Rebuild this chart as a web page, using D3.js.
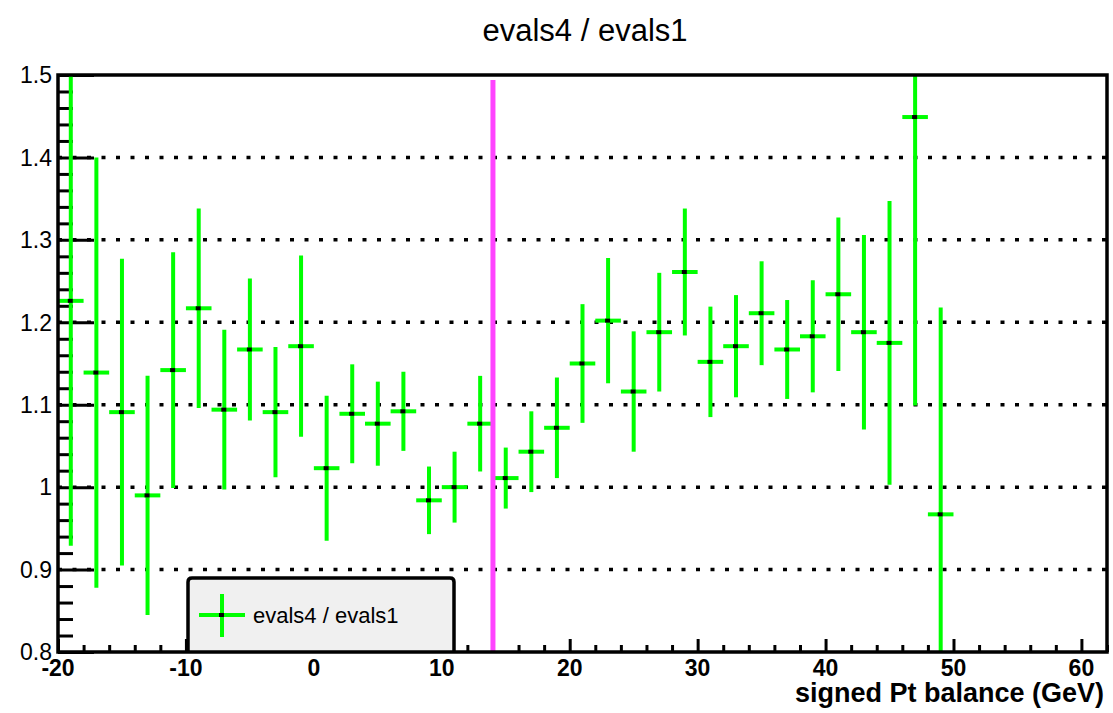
<!DOCTYPE html>
<html>
<head>
<meta charset="utf-8">
<script src="https://cdn.jsdelivr.net/npm/d3@7"></script>
<style>
  body { margin: 0; background: #fff; }
  text { font-family: "Liberation Sans", Arial, sans-serif; }
</style>
</head>
<body>
<div id="chart"></div>
<script>
// bins (centres, GeV) and ratio evals4 / evals1 with its errors
const binCenters = [-19, -17, -15, -13, -11, -9, -7, -5, -3, -1, 1, 3, 5, 7, 9, 11, 13, 15,
  17, 19, 21, 23, 25, 27, 29, 31, 33, 35, 37, 39, 41, 43, 45, 47, 49];
const ratio = [1.226, 1.139, 1.091, 0.990, 1.142, 1.217, 1.094, 1.167, 1.091, 1.171, 1.023, 1.089,
  1.077, 1.092, 0.984, 1.000, 1.077, 1.011, 1.043, 1.072, 1.150, 1.202, 1.116, 1.188, 1.261,
  1.152, 1.171, 1.211, 1.167, 1.183, 1.234, 1.188, 1.175, 1.449, 0.967];
const ratioErr = [0.297, 0.261, 0.186, 0.145, 0.143, 0.121, 0.097, 0.086, 0.079, 0.110, 0.088, 0.060,
  0.051, 0.048, 0.041, 0.043, 0.058, 0.037, 0.049, 0.061, 0.072, 0.076, 0.073, 0.072, 0.077,
  0.067, 0.062, 0.063, 0.060, 0.068, 0.093, 0.118, 0.172, 0.350, 0.251];
const binHalfWidth = 1;

const xDomain = [-20, 62];
const yDomain = [0.8, 1.5];
const xMajorTicks = [-20, -10, 0, 10, 20, 30, 40, 50, 60];
const yMajorTicks = [0.8, 0.9, 1.0, 1.1, 1.2, 1.3, 1.4, 1.5];
const yTickLabels = ["0.8", "0.9", "1", "1.1", "1.2", "1.3", "1.4", "1.5"];
const gridLevels = [0.9, 1.0, 1.1, 1.2, 1.3, 1.4];
// vertical cut line
const cutX = 14;
const cutY = [0.8, 1.494];

const title = "evals4 / evals1";
const xTitle = "signed Pt balance (GeV)";

// ---------------------------------------------------------------
const W = 1113, H = 713;
const frame = { left: 58, right: 1107, top: 75, bottom: 652 };

const svg = d3.select("#chart").append("svg")
  .attr("width", W).attr("height", H);

const x = d3.scaleLinear().domain(xDomain).range([frame.left, frame.right]);
const y = d3.scaleLinear().domain(yDomain).range([frame.bottom, frame.top]);

svg.append("clipPath").attr("id", "clip")
  .append("rect")
  .attr("x", frame.left).attr("y", frame.top)
  .attr("width", frame.right - frame.left).attr("height", frame.bottom - frame.top);

// dotted grid
svg.append("g").selectAll("line")
  .data(gridLevels)
  .join("line")
  .attr("x1", frame.left).attr("x2", frame.right)
  .attr("y1", d => y(d)).attr("y2", d => y(d))
  .attr("stroke", "#000").attr("stroke-width", 3.5)
  .attr("stroke-dasharray", "4 10.5");

// y axis: major + minor ticks (inside)
const yMinor = d3.range(0.8, 1.5001, 0.02).filter(v => Math.abs(v * 10 - Math.round(v * 10)) > 1e-6);
const yAxis = svg.append("g").attr("transform", `translate(${frame.left},0)`)
  .call(d3.axisRight(y).tickValues(yMajorTicks).tickSize(36).tickFormat(""));
yAxis.append("g")
  .call(d3.axisRight(y).tickValues(yMinor).tickSize(15).tickFormat(""));
yAxis.selectAll(".domain").remove();
yAxis.selectAll(".tick line").attr("stroke", "#000").attr("stroke-width", 3);

svg.append("g").selectAll("text")
  .data(yMajorTicks)
  .join("text")
  .attr("x", frame.left - 6)
  .attr("y", d => y(d))
  .attr("dy", "0.36em")
  .attr("text-anchor", "end")
  .attr("font-size", 23)
  .text((d, i) => yTickLabels[i]);

// x axis: major + minor ticks (inside, pointing up)
const xMinor = d3.range(-20, 62.001, 2).filter(v => v % 10 !== 0);
const xAxis = svg.append("g").attr("transform", `translate(0,${frame.bottom})`)
  .call(d3.axisTop(x).tickValues(xMajorTicks).tickSize(13).tickFormat(""));
xAxis.append("g")
  .call(d3.axisTop(x).tickValues(xMinor).tickSize(7).tickFormat(""));
xAxis.selectAll(".domain").remove();
xAxis.selectAll(".tick line").attr("stroke", "#000").attr("stroke-width", 3);

svg.append("g").selectAll("text")
  .data(xMajorTicks)
  .join("text")
  .attr("x", d => x(d))
  .attr("y", frame.bottom + 24)
  .attr("text-anchor", "middle")
  .attr("font-size", 23)
  .attr("font-weight", "bold")
  .text(d => d);

// data: error bars
const pts = binCenters.map((c, i) => ({ c, v: ratio[i], e: ratioErr[i] }));
const plot = svg.append("g").attr("clip-path", "url(#clip)");

plot.selectAll("line.ex")
  .data(pts)
  .join("line").attr("class", "ex")
  .attr("x1", d => x(d.c - binHalfWidth)).attr("x2", d => x(d.c + binHalfWidth))
  .attr("y1", d => y(d.v)).attr("y2", d => y(d.v))
  .attr("stroke", "#00ff00").attr("stroke-width", 4);

plot.selectAll("line.ey")
  .data(pts)
  .join("line").attr("class", "ey")
  .attr("x1", d => x(d.c)).attr("x2", d => x(d.c))
  .attr("y1", d => y(d.v - d.e)).attr("y2", d => y(d.v + d.e))
  .attr("stroke", "#00ff00").attr("stroke-width", 4);

plot.selectAll("rect.mk")
  .data(pts)
  .join("rect").attr("class", "mk")
  .attr("x", d => x(d.c) - 3).attr("y", d => y(d.v) - 2)
  .attr("width", 5).attr("height", 4)
  .attr("fill", "#000");

// cut line
svg.append("line")
  .attr("x1", x(cutX)).attr("x2", x(cutX))
  .attr("y1", y(cutY[0])).attr("y2", y(cutY[1]))
  .attr("stroke", "#ff44ff").attr("stroke-width", 5);

// legend
const leg = { x0: 188, x1: 454, y0: 578, y1: frame.bottom };
svg.append("path")
  .attr("d", `M${leg.x0},${leg.y1} V${leg.y0 + 4} Q${leg.x0},${leg.y0} ${leg.x0 + 4},${leg.y0}
     H${leg.x1 - 4} Q${leg.x1},${leg.y0} ${leg.x1},${leg.y0 + 4} V${leg.y1}`)
  .attr("fill", "#f0f0f0").attr("stroke", "#000").attr("stroke-width", 3.5);

const lx = 222, ly = 615;
svg.append("line").attr("x1", lx - 23).attr("x2", lx + 23).attr("y1", ly).attr("y2", ly)
  .attr("stroke", "#00ff00").attr("stroke-width", 4);
svg.append("line").attr("x1", lx).attr("x2", lx).attr("y1", ly - 21).attr("y2", ly + 22)
  .attr("stroke", "#00ff00").attr("stroke-width", 4);
svg.append("rect").attr("x", lx - 3).attr("y", ly - 2).attr("width", 5).attr("height", 4).attr("fill", "#000");
svg.append("text")
  .attr("x", 253).attr("y", ly + 8)
  .attr("font-size", 22)
  .text(title);

// frame
svg.append("rect")
  .attr("x", frame.left).attr("y", frame.top)
  .attr("width", frame.right - frame.left).attr("height", frame.bottom - frame.top)
  .attr("fill", "none").attr("stroke", "#000").attr("stroke-width", 3.5);

// titles
svg.append("text")
  .attr("x", 585).attr("y", 41)
  .attr("text-anchor", "middle")
  .attr("font-size", 31)
  .text(title);

svg.append("text")
  .attr("x", 1104).attr("y", 702)
  .attr("text-anchor", "end")
  .attr("font-size", 27)
  .attr("font-weight", "bold")
  .text(xTitle);
</script>
</body>
</html>
